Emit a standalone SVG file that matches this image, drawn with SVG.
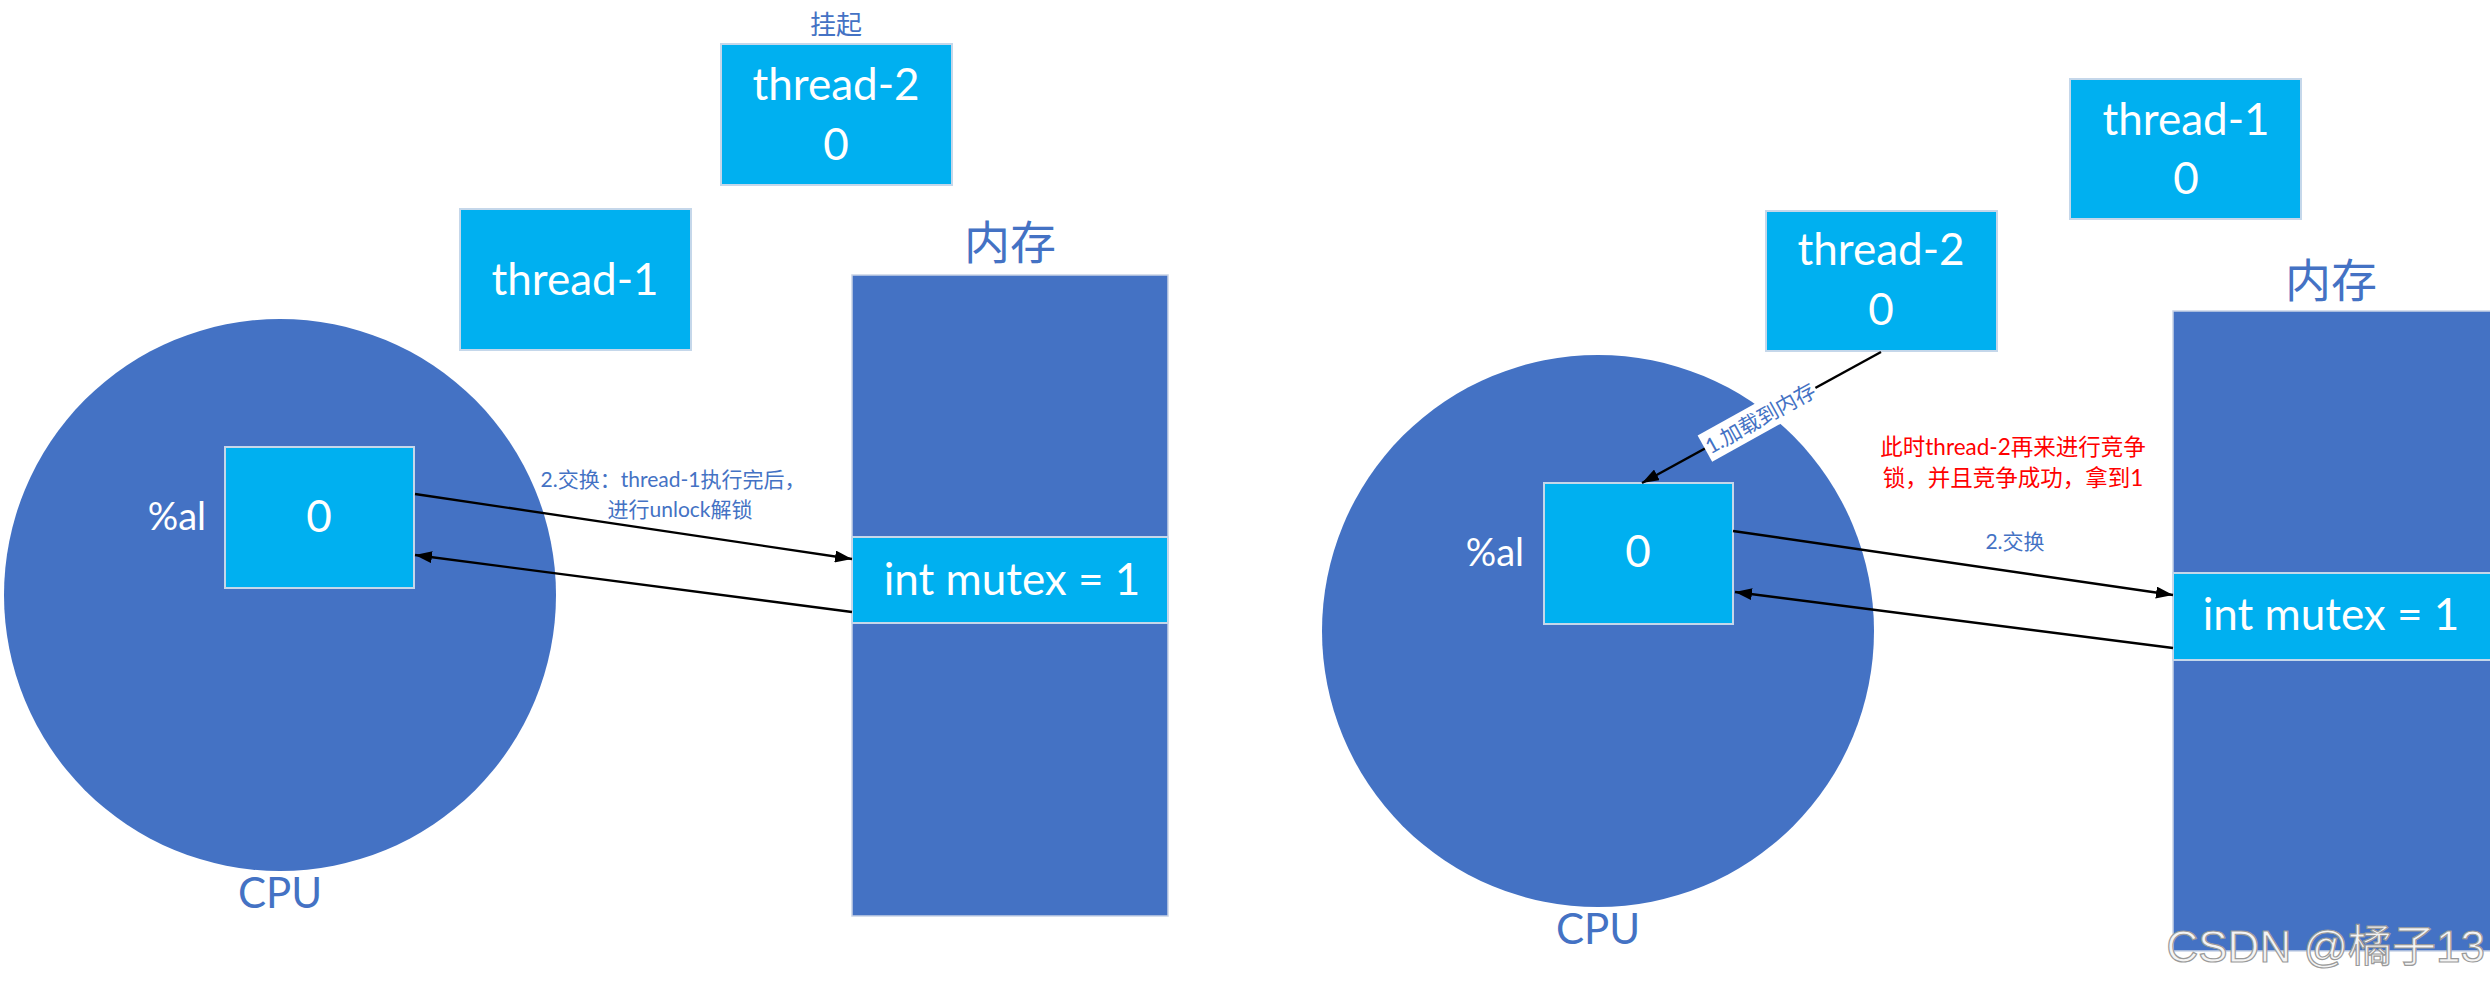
<svg xmlns="http://www.w3.org/2000/svg" width="2490" height="984" viewBox="0 0 2490 984">
<defs>
<style>
.cpu{fill:#4472C4}
.mem{fill:#4472C4;stroke:#c9d3e6;stroke-width:1.5}
.box{fill:#00B0F0;stroke:#c5d7ea;stroke-width:2}
.w{fill:#ffffff;font-family:Lato,"Noto Sans CJK SC",sans-serif}
.big{font-size:44px;text-anchor:middle}
.al{font-size:38px;text-anchor:end}
.bl{fill:#4472C4;font-family:Lato,"Noto Sans CJK SC",sans-serif}
.cn{font-size:46px;text-anchor:middle}
.lab{font-size:21px;text-anchor:middle}
.red{fill:#FF0000;font-family:Lato,"Noto Sans CJK SC",sans-serif;font-size:22.5px;text-anchor:middle}
.ln{stroke:#000;stroke-width:2.4;fill:none;marker-end:url(#ah)}
.wm{font-family:"Liberation Sans","Noto Sans CJK SC",sans-serif;font-size:44px;fill:#f4f4f4;stroke:#9a9a9a;stroke-width:1.2;text-anchor:end}
</style>
<marker id="ah" viewBox="0 0 10 10" refX="10" refY="5" markerWidth="17" markerHeight="12" markerUnits="userSpaceOnUse" orient="auto" preserveAspectRatio="none">
<path d="M0,0 L10,5 L0,10 z" fill="#000"/>
</marker>
</defs>
<rect width="2490" height="984" fill="#fff"/>

<!-- LEFT -->
<g id="cpu-left">
<ellipse class="cpu" cx="280" cy="595" rx="276" ry="276"/>
<text class="bl" x="280" y="908" font-size="42" text-anchor="middle">CPU</text>
</g>
<g id="mem-left">
<rect class="mem" x="852" y="275" width="316" height="641"/>
<text class="bl cn" x="1010" y="259">内存</text>
</g>
<g id="mutex-left">
<rect class="box" x="852" y="537" width="316" height="86"/>
<text class="w big" x="1012" y="595" font-size="46">int mutex = 1</text>
</g>
<g id="reg-left">
<rect class="box" x="225" y="447" width="189" height="141"/>
<text class="w big" x="319" y="532">0</text>
<text class="w al" x="206" y="530">%al</text>
</g>
<g id="thread1-left">
<rect class="box" x="460" y="209" width="231" height="141"/>
<text class="w big" x="575" y="295">thread-1</text>
</g>
<g id="thread2-left">
<rect class="box" x="721" y="44" width="231" height="141"/>
<text class="w big" x="836" y="100">thread-2</text>
<text class="w big" x="836" y="160">0</text>
<text class="bl" x="836" y="34" font-size="26" text-anchor="middle">挂起</text>
</g>

<!-- RIGHT -->
<g id="cpu-right">
<ellipse class="cpu" cx="1598" cy="631" rx="276" ry="276"/>
<text class="bl" x="1598" y="944" font-size="42" text-anchor="middle">CPU</text>
</g>
<g id="mem-right">
<rect class="mem" x="2173" y="311" width="318" height="640"/>
<text class="bl cn" x="2331" y="297">内存</text>
</g>
<g id="mutex-right">
<rect class="box" x="2173" y="573" width="318" height="87"/>
<text class="w big" x="2331" y="630" font-size="46">int mutex = 1</text>
</g>
<g id="reg-right">
<rect class="box" x="1544" y="483" width="189" height="141"/>
<text class="w big" x="1638" y="567">0</text>
<text class="w al" x="1524" y="566">%al</text>
</g>
<g id="thread2-right">
<rect class="box" x="1766" y="211" width="231" height="140"/>
<text class="w big" x="1881" y="265">thread-2</text>
<text class="w big" x="1881" y="325">0</text>
</g>
<g id="thread1-right">
<rect class="box" x="2070" y="79" width="231" height="140"/>
<text class="w big" x="2186" y="135">thread-1</text>
<text class="w big" x="2186" y="194">0</text>
</g>

<!-- CONNECTORS -->
<g id="connectors">
<line class="ln" x1="415" y1="494" x2="852" y2="559"/>
<line class="ln" x1="852" y1="612" x2="415" y2="555"/>
<text class="bl lab" x="673" y="487">2.交换：thread-1执行完后，</text>
<text class="bl lab" x="680" y="517">进行unlock解锁</text>

<line class="ln" x1="1881" y1="352" x2="1642" y2="483"/>
<g transform="translate(1760,418) rotate(-29)">
<rect x="-63" y="-15" width="126" height="30" fill="#fff"/>
<text class="bl lab" x="0" y="8">1.加载到内存</text>
</g>
<line class="ln" x1="1733" y1="531" x2="2173" y2="595"/>
<line class="ln" x1="2173" y1="648" x2="1735" y2="592"/>
<text class="bl lab" x="2015" y="549">2.交换</text>
<text class="red" x="2013" y="455">此时thread-2再来进行竞争</text>
<text class="red" x="2013" y="486">锁，并且竞争成功，拿到1</text>
</g>

<text class="wm" x="2485" y="962">CSDN @橘子13</text>
</svg>
